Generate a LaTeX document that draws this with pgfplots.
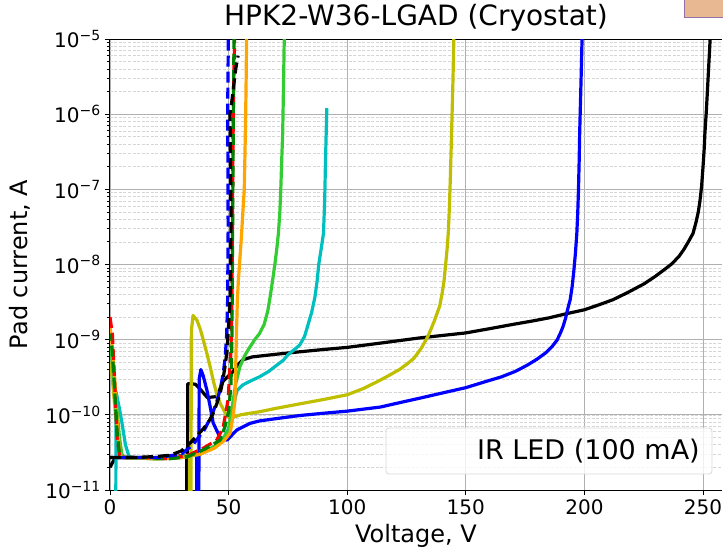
\documentclass[border=0pt]{standalone}
\usepackage{pgfplots}
\pgfplotsset{compat=1.18}
\usepackage{fontspec}
\setmainfont{DejaVu Sans}

\definecolor{cblue}{rgb}{0,0,1}
\definecolor{colive}{rgb}{0.75,0.75,0}
\definecolor{ccyan}{rgb}{0,0.75,0.75}
\definecolor{clime}{rgb}{0.2,0.8,0.2}
\definecolor{corange}{rgb}{1,0.647,0}
\definecolor{cgreen}{rgb}{0,0.5,0}
\definecolor{majgrid}{RGB}{176,176,176}
\definecolor{mingrid}{RGB}{214,214,214}
\definecolor{boxfill}{RGB}{232,184,146}
\definecolor{boxedge}{RGB}{150,110,170}

\begin{document}
\begin{tikzpicture}[x=1pt,y=1pt]
\begin{axis}[
  at={(0,0)}, anchor=south west,
  scale only axis, width=612pt, height=451pt,
  xmin=0, xmax=258, ymode=log, ymin=1e-11, ymax=1e-5,
  axis x line*=box, axis y line*=left,
  xtick pos=left, ytick pos=left,
  xtick={0,50,100,150,200,250},
  xticklabels={0,50,100,150,200,250},
  ytick={1e-11,1e-10,1e-9,1e-8,1e-7,1e-6,1e-5},
  yticklabels={10\textsuperscript{−11},10\textsuperscript{−10},10\textsuperscript{−9},10\textsuperscript{−8},10\textsuperscript{−7},10\textsuperscript{−6},10\textsuperscript{−5}},
  /pgf/number format/assume math mode=true,
  tick align=outside, major tick length=5pt, minor tick length=3pt,
  tick style={black, line width=0.8pt},
  xmajorgrids, ymajorgrids, yminorgrids,
  major grid style={majgrid, line width=0.8pt},
  minor grid style={mingrid, line width=0.6pt, dash pattern=on 3pt off 1.5pt},
  ticklabel style={font=\fontsize{20}{24}\selectfont},
  xticklabel style={anchor=north, inner sep=0pt, yshift=-4pt},
  yticklabel style={anchor=east, inner sep=0pt, xshift=-4pt},
  axis line style={black, line width=1pt},
  title={HPK2-W36-LGAD (Cryostat)},
  title style={at={(0.5,1)}, anchor=base, yshift=8pt, inner sep=0pt, font=\fontsize{28}{32}\selectfont},
  every axis plot/.append style={line width=3.2pt, line join=round, line cap=butt},
]

% black solid
\addplot[black] coordinates {
(0,2.0e-11) (1,2.3e-11) (2,2.6e-11) (3,2.7e-11) (10,2.7e-11) (20,2.65e-11) (28,2.8e-11) (32.3,2.9e-11)
(32.4,3e-12) (32.6,3e-12) (32.8,2.6e-10) (34,2.6e-10) (36,2.55e-10) (38,2.2e-10) (41,1.7e-10)
(45,1.75e-10) (47.7,2.8e-10) (50,3.3e-10) (52,3.8e-10) (53.5,4.5e-10) (56,5.4e-10) (60,5.9e-10)
(70,6.4e-10) (80,6.9e-10) (90,7.4e-10) (100,7.9e-10) (114,9e-10) (130,1.05e-9) (150,1.23e-9)
(160,1.4e-9) (170,1.6e-9) (178,1.77e-9) (185,1.95e-9) (192,2.2e-9) (200,2.5e-9) (206,2.9e-9)
(212,3.4e-9) (218,4.2e-9) (225,5.5e-9) (230,7e-9) (234,8.7e-9) (237,1.03e-8) (240,1.3e-8)
(242,1.6e-8) (244,2.05e-8) (245.8,2.6e-8) (247,3.6e-8) (248,5e-8) (248.7,7e-8) (249.4,1.1e-7)
(250,2e-7) (250.5,3.5e-7) (250.8,5.6e-7) (251.4,1.1e-6) (252,2.5e-6) (252.5,5e-6) (253,1e-5)
(253.3,2e-5)
};

% blue solid
\addplot[cblue] coordinates {
(1.5,2.7e-11) (10,2.7e-11) (20,2.65e-11) (30,2.8e-11) (35,3e-11) (36.5,3e-11) (36.7,3e-12) (37.4,3e-12)
(37.6,3e-10) (38.3,4e-10) (39.3,3.3e-10) (40.9,2.1e-10) (42.2,1.3e-10) (43.5,7.8e-11) (46.4,5e-11)
(49.3,4.6e-11) (53.5,6.3e-11) (59,7.7e-11) (63,8.3e-11) (70,8.9e-11) (80,9.8e-11) (90,1.05e-10)
(100,1.12e-10) (114,1.27e-10) (122,1.45e-10) (130,1.65e-10) (140,1.95e-10) (150,2.3e-10)
(158,2.75e-10) (165,3.2e-10) (171,3.8e-10) (176,4.6e-10) (180,5.5e-10) (184,6.8e-10)
(186.5,8.2e-10) (188.5,9.9e-10) (190,1.25e-9) (191,1.5e-9) (192,1.9e-9) (192.6,2.3e-9)
(193.4,2.9e-9) (194,3.4e-9) (194.8,5e-9) (195.5,8e-9) (196.2,1.4e-8) (196.8,2.6e-8) (197.2,5e-8)
(197.5,1e-7) (197.8,2.5e-7) (198,5.6e-7) (198.3,1.3e-6) (198.6,3e-6) (198.8,5.5e-6) (199,1e-5)
(199.2,2e-5)
};

% olive solid
\addplot[colive] coordinates {
(0,5e-10) (1,3e-10) (2,1.3e-10) (3,5e-11) (4,3e-11) (5,2.7e-11) (20,2.6e-11) (30,2.8e-11)
(33.5,2.9e-11) (33.6,3e-12) (34.1,3e-12) (34.3,1.3e-9) (35,2.1e-9) (36.7,1.8e-9) (38,1.4e-9)
(39.3,1e-9) (40.7,6.8e-10) (42.2,4.4e-10) (43.6,2.8e-10) (45,1.9e-10) (46.3,1.45e-10) (47.7,1.2e-10)
(49,1e-10) (50.6,9e-11) (55,1e-10) (59,1.05e-10) (63,1.1e-10) (70,1.22e-10) (80,1.4e-10)
(90,1.6e-10) (100,1.85e-10) (107,2.25e-10) (114,2.9e-10) (118,3.4e-10) (122,4e-10) (125,4.7e-10)
(128,5.6e-10) (131,7.5e-10) (134,1.1e-9) (136.5,1.7e-9) (139,2.8e-9) (140,4.1e-9) (140.8,6e-9)
(141.5,1e-8) (142.1,1.6e-8) (142.6,2.6e-8) (143.1,6e-8) (143.5,1.5e-7) (144,5.6e-7) (144.3,1.3e-6)
(144.6,3e-6) (145,1.2e-5)
};

% cyan solid
\addplot[ccyan] coordinates {
(2.4,3e-12) (2.6,2e-10) (4,1.2e-10) (5,8e-11) (6.5,4e-11) (8,2.8e-11) (10,2.7e-11) (20,2.6e-11)
(30,2.7e-11) (38,3e-11) (44,3.8e-11) (48,5e-11) (50.5,7e-11) (52,1.3e-10) (53.5,2.1e-10)
(56,2.5e-10) (59,2.8e-10) (63,3.2e-10) (67,3.8e-10) (70,4.5e-10) (73,5.3e-10) (75,6.3e-10)
(78,7.5e-10) (80,8.5e-10) (82,1.1e-9) (83,1.4e-9) (84,1.8e-9) (85,2.3e-9) (86.4,3.7e-9)
(87.3,6e-9) (88,1e-8) (89,1.6e-8) (90,2.6e-8) (90.5,7e-8) (90.8,2e-7) (91.1,5e-7) (91.4,1.2e-6)
};

% lime green solid
\addplot[clime] coordinates {
(0,8e-10) (1,5e-10) (2,2.5e-10) (3,1.1e-10) (4,5e-11) (5,3e-11) (6,2.7e-11) (20,2.6e-11)
(30,2.7e-11) (38,3e-11) (44,3.8e-11) (47,4.6e-11) (49.8,6e-11) (51,1e-10) (52,1.6e-10)
(53,2.6e-10) (54.8,4.4e-10) (57,6.3e-10) (59,8e-10) (61,1e-9) (63,1.2e-9) (65,1.6e-9)
(66.5,2.4e-9) (67.5,3.7e-9) (68.5,6e-9) (69.5,1e-8) (70.3,1.6e-8) (71,2.6e-8) (71.6,5e-8)
(72,1e-7) (72.4,2.5e-7) (72.8,5.6e-7) (73,1.3e-6) (73.2,3e-6) (73.5,1.2e-5)
};

% orange solid
\addplot[corange] coordinates {
(0,1.5e-9) (1,8e-10) (2,3e-10) (3,8e-11) (4,3.2e-11) (5,2.7e-11) (10,2.7e-11) (20,2.6e-11)
(30,2.7e-11) (38,3e-11) (44,3.6e-11) (48,4.5e-11) (50.6,5.7e-11) (52,1e-10) (52.7,1.6e-10)
(53.3,1.2e-9) (53.7,3.4e-9) (54.1,6e-9) (54.6,1e-8) (55.1,1.7e-8) (55.6,3e-8) (56.1,5.5e-8)
(56.6,1e-7) (56.9,3e-7) (57.2,1e-6) (57.4,3e-6) (57.6,1.2e-5)
};

% red dashed
\addplot[red, dash pattern=on 11pt off 5pt] coordinates {
(0,2e-9) (1,1.2e-9) (2,2.5e-10) (3,5e-11) (4,2.9e-11) (5,2.7e-11) (15,2.7e-11) (25,2.6e-11)
(33,2.9e-11) (39.3,3.6e-11) (45,4.6e-11) (47.7,6.8e-11) (49.8,1.6e-10) (50.5,4e-10) (51,7.3e-10)
(51.4,3.4e-9) (51.6,3e-8) (51.8,3e-7) (52.2,3e-6) (52.6,1.2e-5)
};

% green dashed
\addplot[cgreen, dash pattern=on 11pt off 5pt, dash phase=4pt] coordinates {
(0,1.2e-9) (1,7e-10) (2,2e-10) (3,6e-11) (4,3e-11) (5,2.7e-11) (15,2.7e-11) (25,2.6e-11)
(33,2.8e-11) (40,3.5e-11) (46.4,4.6e-11) (48.5,7e-11) (50,1.1e-10) (51,2.5e-10) (51.4,1e-9)
(51.6,1e-8) (51.8,1e-7) (52,1e-6) (52.3,1.2e-5)
};

% blue dashed
\addplot[cblue, dash pattern=on 11pt off 5pt, dash phase=8pt] coordinates {
(0,2.7e-11) (10,2.7e-11) (20,2.7e-11) (30,3e-11) (35,4e-11) (40,6.5e-11) (43,1e-10) (45,1.5e-10)
(46.5,2.2e-10) (47.7,3.5e-10) (48.6,6e-10) (49.2,1.2e-9) (49.6,3.4e-9) (49.8,3e-8) (49.7,3e-7)
(49.6,1e-6) (49.9,1.2e-5)
};

% black dashed
\addplot[black, dash pattern=on 11pt off 5pt] coordinates {
(0,2.7e-11) (10,2.7e-11) (20,2.8e-11) (25.3,2.9e-11) (30,3.3e-11) (33.7,4.2e-11) (36,5e-11)
(39.3,6.5e-11) (41.5,8e-11) (43.5,1.05e-10) (45,1.4e-10) (46.4,1.9e-10) (47.5,2.8e-10)
(48.5,4.4e-10) (49.3,7e-10) (49.8,1.2e-9) (50.6,3.4e-9) (50.9,1e-8) (51,5e-8) (50.8,2e-7)
(50.6,1e-6) (51.5,1.6e-6) (53,4e-6) (54,6e-6)
};

\end{axis}

% legend frame and text
\draw[rounded corners=3pt, draw=black!15, line width=0.8pt, fill=white, fill opacity=0.8]
  (276,16) rectangle (602,62);
\node[anchor=base east, inner sep=0pt, font=\fontsize{27}{30}\selectfont] at (590,30) {IR LED (100 mA)};

% axis labels
\node[anchor=base, inner sep=0pt, font=\fontsize{24}{28}\selectfont] at (306,-53) {Voltage, V};
\node[rotate=90, anchor=base, inner sep=0pt, font=\fontsize{24}{28}\selectfont] at (-82,225.5) {Pad current, A};

% box at the upper right corner
\filldraw[fill=boxfill, draw=boxedge, line width=1pt] (574,472) rectangle (640,530);

\pgfresetboundingbox
\path (-110,-61) rectangle (613,490);
\end{tikzpicture}
\end{document}
